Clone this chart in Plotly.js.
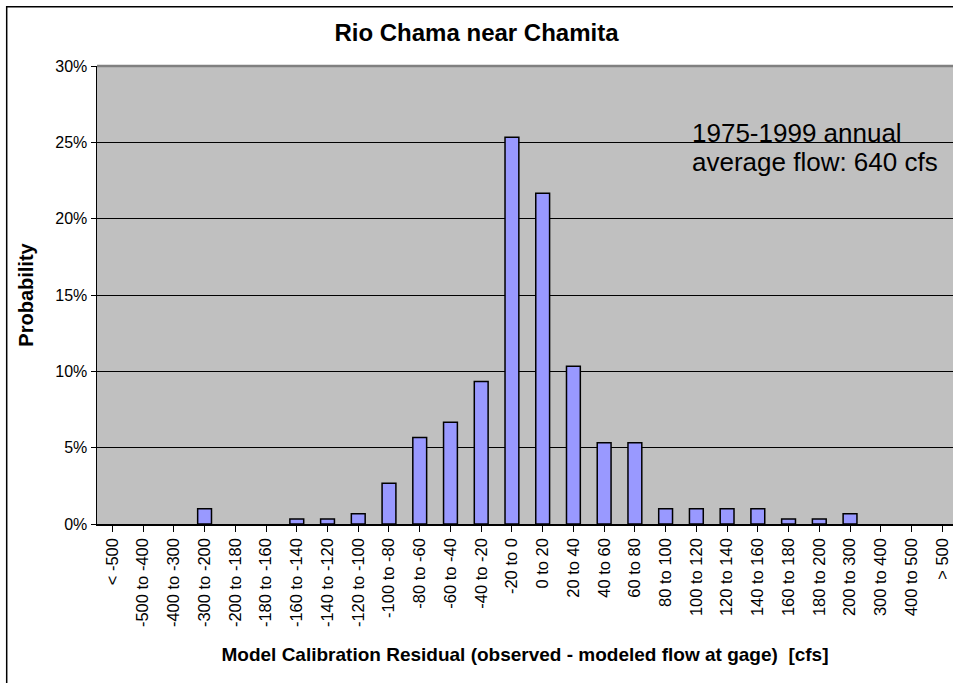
<!DOCTYPE html>
<html>
<head>
<meta charset="utf-8">
<script src="https://cdn.plot.ly/plotly-3.0.1.min.js"></script>
<style>html,body{margin:0;padding:0;background:#fff;}#chart{width:953px;height:683px;}</style>
</head>
<body>
<div id="chart"></div>
<script>
const categories = ["< -500","-500 to -400","-400 to -300","-300 to -200","-200 to -180","-180 to -160","-160 to -140","-140 to -120","-120 to -100","-100 to -80","-80 to -60","-60 to -40","-40 to -20","-20 to 0","0 to 20","20 to 40","40 to 60","60 to 80","80 to 100","100 to 120","120 to 140","140 to 160","160 to 180","180 to 200","200 to 300","300 to 400","400 to 500","> 500"];
const probability = [0,0,0,0.0100,0,0,0.0033,0.0033,0.0067,0.0267,0.0567,0.0667,0.0933,0.2533,0.2167,0.1033,0.0533,0.0533,0.0100,0.0100,0.0100,0.0100,0.0033,0.0033,0.0067,0,0,0];
const yTicks = [0,0.05,0.10,0.15,0.20,0.25,0.30];
const yTickText = ["0%","5%","10%","15%","20%","25%","30%"];
const noteLines = ["1975-1999 annual","average flow: 640 cfs"];

const FONT = "Liberation Sans, Arial, sans-serif";
const trace = {
  type: "bar",
  x: categories.map((c,i)=>i),
  y: probability,
  width: 0.45,
  marker: {color: "#9999ff", line: {color: "#000000", width: probability.map(v => v > 0 ? 1.5 : 0)}},
  hoverinfo: "none"
};
const layout = {
  width: 953, height: 683,
  margin: {l: 97, r: 0, t: 66, b: 159},
  paper_bgcolor: "#ffffff",
  plot_bgcolor: "#c0c0c0",
  font: {family: FONT, color: "#000"},
  showlegend: false,
  title: {text: "<b>Rio Chama near Chamita</b>", font: {size: 24, family: FONT}, x: 0.5, xanchor: "center", y: 0.953, yanchor: "middle"},
  xaxis: {
    range: [-0.5, 27.35],
    tickmode: "array", tickvals: categories.map((c,i)=>i), ticktext: categories,
    tickangle: -90, tickfont: {size: 16.5},
    ticks: "outside", ticklen: 6, tickcolor: "#000", tickson: "boundaries",
    showline: true, linecolor: "#000", linewidth: 1.5,
    showgrid: false, zeroline: false, fixedrange: true,
    title: {text: "<b>Model Calibration Residual (observed - modeled flow at gage)  [cfs]</b>", font: {size: 19}, standoff: 21}
  },
  yaxis: {
    range: [0, 0.30],
    tickmode: "array", tickvals: yTicks, ticktext: yTickText,
    tickfont: {size: 16},
    ticks: "outside", ticklen: 5, tickcolor: "#000",
    showline: true, linecolor: "#000", linewidth: 1.5,
    showgrid: true, gridcolor: "#000", gridwidth: 1,
    zeroline: false, fixedrange: true,
    title: {text: "<b>Probability</b>", font: {size: 20}, standoff: 16}
  },
  annotations: noteLines.map((t, i) => ({
    xref: "paper", yref: "paper", x: 0.6928, y: 0.8533 - i * 0.0628, xanchor: "left", yanchor: "middle",
    text: t, align: "left", showarrow: false,
    font: {size: 26, family: FONT, color: "#000"}
  })),
  shapes: [
    {type: "rect", xref: "paper", yref: "paper", x0: 0.669, x1: 1.01, y0: 0.74, y1: 0.9034, line: {width: 0}, fillcolor: "#c0c0c0", layer: "between"},
    {type: "line", xref: "paper", yref: "paper", x0: 0, x1: 1.02, y0: 1, y1: 1, line: {color: "#808080", width: 2.5}},
    {type: "rect", xref: "paper", yref: "paper", x0: -0.1055, x1: 1.02, y0: -0.36, y1: 1.1295, line: {color: "#000", width: 1.5}, fillcolor: "rgba(0,0,0,0)", layer: "above"}
  ]
};
Plotly.newPlot("chart", [trace], layout, {staticPlot: true, displayModeBar: false});
</script>
</body>
</html>
